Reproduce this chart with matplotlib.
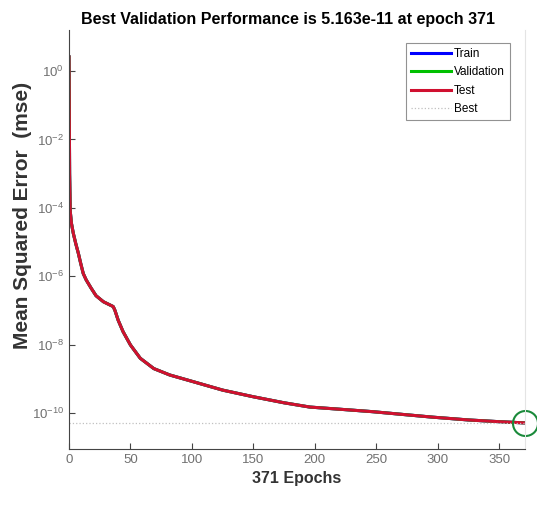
import matplotlib.pyplot as plt
import numpy as np

plt.rcParams['font.family'] = ['Liberation Sans', 'DejaVu Sans']

# performance values (epoch, mse)
epochs = [0, 0.5, 1, 2, 3.5, 5.5, 7.6, 9.5, 11.6, 14, 18, 22, 28, 36, 37.4, 40, 44, 50,
          58, 69, 82, 101, 125, 150, 175, 196, 225, 247, 275, 296, 325, 350, 371]
mse = [2.6, 1e-3, 8e-5, 3.5e-5, 1.8e-5, 9e-6, 4.7e-6, 2.4e-6, 1.2e-6, 7.8e-7, 4.5e-7,
       2.7e-7, 1.8e-7, 1.3e-7, 1.0e-7, 5.2e-8, 2.4e-8, 9.8e-9, 4.0e-9, 2.0e-9, 1.3e-9,
       8.3e-10, 4.7e-10, 3.0e-10, 2.0e-10, 1.5e-10, 1.26e-10, 1.1e-10, 8.9e-11, 7.6e-11,
       6.3e-11, 5.6e-11, 5.163e-11]
best_epoch = 371
best_perf = 5.163e-11
xticks = [0, 50, 100, 150, 200, 250, 300, 350]
yticks = [1e0, 1e-2, 1e-4, 1e-6, 1e-8, 1e-10]

fig = plt.figure(figsize=(5.37, 5.07), dpi=100)
ax = fig.add_axes([0.1285, 0.1144, 0.849, 0.8264])

ax.semilogy(epochs, mse, color='#0000ff', linewidth=2.2, label='Train')
ax.semilogy(epochs, mse, color='#00c000', linewidth=2.2, label='Validation')
ax.semilogy(epochs, mse, color='#d01030', linewidth=2.2, label='Test')
ax.axhline(best_perf, color='#c0c0c0', linestyle=':', linewidth=0.9, label='Best')
ax.plot([best_epoch], [best_perf], 'o', markersize=18, markerfacecolor='none',
        markeredgecolor='#1a8a3a', markeredgewidth=1.5, clip_on=False)

ax.set_xlim(0, 371)
ax.set_ylim(10 ** -11.05, 10 ** 1.2)
ax.set_xticks(xticks)
ax.set_yticks(yticks)
ax.tick_params(axis='both', which='both', direction='in', colors='#444444',
               labelcolor='#707070', labelsize=9.5)
ax.tick_params(axis='both', which='major', length=4)
ax.tick_params(axis='y', which='minor', length=2)

ax.spines['top'].set_visible(False)
ax.spines['right'].set_color('#e4e4e4')
ax.spines['left'].set_color('#444444')
ax.spines['bottom'].set_color('#444444')

ax.set_title('Best Validation Performance is 5.163e-11 at epoch 371',
             fontsize=11.5, fontweight='bold', pad=4, x=0.48)
ax.set_xlabel('371 Epochs', fontsize=11.5, fontweight='bold', color='#333333')
ax.set_ylabel('Mean Squared Error  (mse)', fontsize=15, fontweight='bold', color='#333333')
ax.yaxis.set_label_coords(-0.081, 0.558)

leg = ax.legend(loc='upper right', bbox_to_anchor=(0.967, 0.969), borderaxespad=0,
                fontsize=8.5, frameon=True, fancybox=False, edgecolor='#777777',
                handlelength=3.4, handletextpad=0.3, labelspacing=0.55)
leg.get_frame().set_linewidth(0.8)

plt.savefig('out.png', dpi=100)
